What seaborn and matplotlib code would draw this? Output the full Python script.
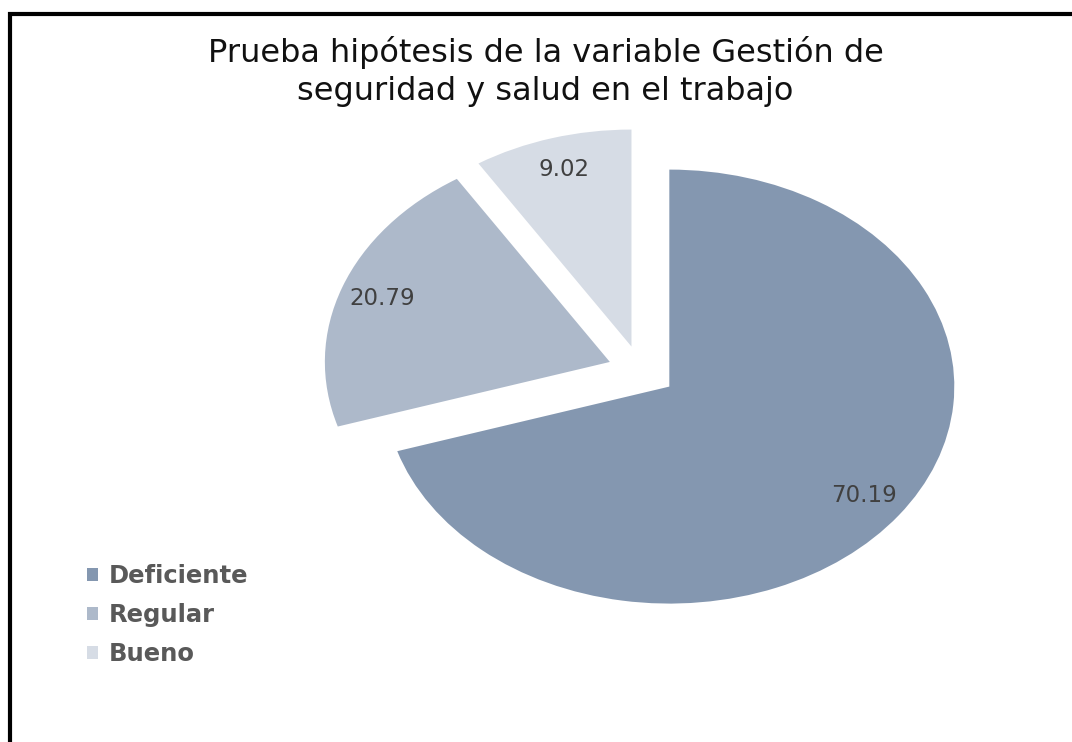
import matplotlib
matplotlib.use("Agg")
import matplotlib.pyplot as plt
from matplotlib.patches import Rectangle
import seaborn as sns

# data
categorias = ["Deficiente", "Regular", "Bueno"]
valores = [70.19, 20.79, 9.02]
colores = ["#8497B0", "#ADB9CA", "#D6DCE5"]
separacion = [0.125, 0.115, 0.115]
titulo = "Prueba hipótesis de la variable Gestión de\nseguridad y salud en el trabajo"

sns.set_theme(style="white")
plt.rcParams["font.family"] = ["DejaVu Sans"]

fig = plt.figure(figsize=(10.72, 7.42), dpi=100)
ax = fig.add_axes([0.2653, 0.1351, 0.6646, 0.7311])

wedges, texts, autotexts = ax.pie(
    valores,
    colors=sns.color_palette(colores),
    explode=separacion,
    startangle=90,
    counterclock=False,
    autopct=lambda p: "",
    pctdistance=0.85,
    wedgeprops=dict(linewidth=0),
)
for t, v in zip(autotexts, valores):
    t.set_text(f"{v:.2f}")
    t.set_fontsize(16.5)
    t.set_color("#404040")

ax.set_aspect("auto")
ax.set_xlim(-1.25, 1.25)
ax.set_ylim(-1.25, 1.25)
ax.axis("off")

fig.text(0.509, 0.904, titulo, ha="center", va="center", fontsize=23,
         color="#111111", linespacing=1.3)

leg = fig.legend(wedges, categorias, loc="center left",
                 bbox_to_anchor=(0.070, 0.171), frameon=False,
                 handlelength=0.45, handleheight=0.45, handletextpad=0.42,
                 labelspacing=0.62, borderpad=0,
                 prop=dict(size=17.5, weight="bold"))
for t in leg.get_texts():
    t.set_color("#595959")

# black frame around the chart area (cut by the image edge on right and bottom)
fig.patches.append(Rectangle((10 / 1072, -0.2), 1.2, 1.2 - 13.5 / 742,
                             transform=fig.transFigure, fill=False,
                             edgecolor="black", linewidth=3, clip_on=False))

fig.savefig("out.png", dpi=100)
